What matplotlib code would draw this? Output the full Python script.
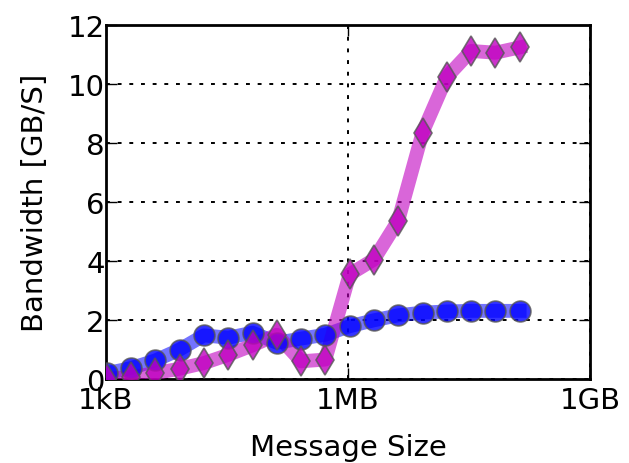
import numpy as np
import matplotlib.pyplot as plt
from matplotlib.ticker import LogLocator, NullFormatter

# message sizes: 2^10 .. 2^27 bytes
sizes = [2 ** k for k in range(10, 28)]

# bandwidth in GB/s
bw_blue = [0.2, 0.37, 0.63, 1.0, 1.48, 1.40, 1.57, 1.23, 1.37, 1.50,
           1.79, 1.99, 2.16, 2.25, 2.29, 2.31, 2.31, 2.31]
bw_magenta = [0.01, 0.06, 0.2, 0.35, 0.54, 0.82, 1.14, 1.50, 0.6, 0.66,
              3.55, 4.05, 5.37, 8.35, 10.24, 11.12, 11.06, 11.24]

xticks = [1e3, 1e6, 1e9]
xticklabels = ["1kB", "1MB", "1GB"]

plt.rcParams['font.family'] = 'DejaVu Sans'
plt.rcParams['font.size'] = 21

fig = plt.figure(figsize=(6.29, 4.64), dpi=100)
ax = fig.add_axes([0.1685, 0.181, 0.7695, 0.763])

# thick translucent lines, then markers on top
ax.plot(sizes, bw_blue, '-', color='#0000ff', lw=10, alpha=0.55, zorder=3)
ax.plot(sizes, bw_blue, 'o', color='#0000ff', ms=15, mec='#555555',
        mew=1.2, alpha=0.8, zorder=4)
ax.plot(sizes, bw_magenta, '-', color='#c000c0', lw=10, alpha=0.6, zorder=3)
ax.plot(sizes, bw_magenta, 'd', color='#c000c0', ms=15, mec='#555555',
        mew=1.2, alpha=0.8, zorder=4)

ax.set_xscale('log')
ax.set_xlim(1e3, 1e9)
ax.set_ylim(0, 12)
ax.set_xticks(xticks)
ax.set_xticklabels(xticklabels)
ax.xaxis.set_minor_locator(LogLocator(base=10, subs=np.arange(2, 10)))
ax.xaxis.set_minor_formatter(NullFormatter())
ax.set_yticks(range(0, 13, 2))

ax.tick_params(which='both', direction='in', top=True, right=True)
ax.tick_params(which='major', length=8, width=1, pad=1)
ax.tick_params(axis='x', which='major', pad=5)
ax.tick_params(which='minor', length=4, width=1)
ax.grid(True, which='major', color='black', linestyle=(0, (2, 4)), linewidth=1.4)
for s in ax.spines.values():
    s.set_linewidth(2)

ax.set_xlabel("Message Size", labelpad=14)
ax.set_ylabel("Bandwidth [GB/S]", labelpad=13)

fig.savefig("out.png", dpi=100)
